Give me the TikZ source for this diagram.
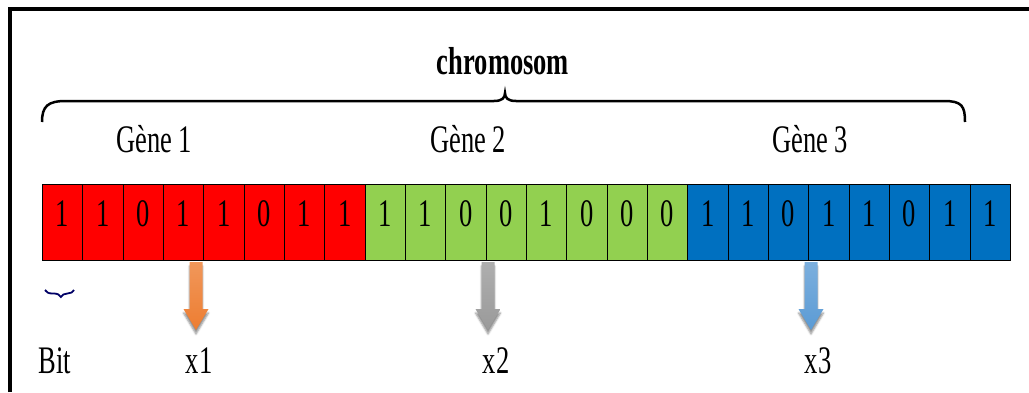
\documentclass[tikz,border=0pt]{standalone}
\usepackage{fontspec}
\setmainfont{Liberation Serif}[FakeStretch=0.68]
\usetikzlibrary{decorations.pathreplacing,positioning,shadows.blur}

\definecolor{genered}{HTML}{FF0000}
\definecolor{genegreen}{HTML}{92D050}
\definecolor{geneblue}{HTML}{0070C0}
\definecolor{arroworange}{HTML}{ED7D31}
\definecolor{arrowgray}{HTML}{9A9A9A}
\definecolor{arrowblue}{HTML}{5B9BD5}

\newcommand{\bigtxt}{\fontsize{39}{40}\selectfont}

\tikzset{
  bitcell/.style={draw=black, line width=0.8pt, minimum width=40.33pt,
    minimum height=76pt, inner sep=0pt, anchor=south west,
    font=\bigtxt, text height=28pt, text depth=20pt},
  txt/.style={font=\bigtxt, anchor=base, inner sep=0pt},
  pics/genearrow/.style={code={
    \shade[top color=#1!80!white, bottom color=#1,
      blur shadow={shadow xshift=0pt, shadow yshift=-4pt, shadow opacity=45}]
      (-6.5,0) -- (-6.5,-47) -- (-12.5,-47) -- (0,-68)
      -- (12.5,-47) -- (6.5,-47) -- (6.5,0) -- cycle;
  }}
}

\begin{document}
\begin{tikzpicture}[x=1pt,y=1pt]
  \useasboundingbox (0,0) rectangle (1029,392);

  % frame (runs off at the right and bottom)
  \draw[line width=4pt] (10,0) -- (10,382.5) -- (1029,382.5);

  % the 24 bits, 8 per gene
  \foreach \b [count=\i] in {1,1,0,1,1,0,1,1, 1,1,0,0,1,0,0,0, 1,1,0,1,1,0,1,1} {
    \ifnum\i<9 \def\cellcol{genered}\else
      \ifnum\i<17 \def\cellcol{genegreen}\else \def\cellcol{geneblue}\fi\fi
    \node[bitcell, fill=\cellcol] (c\i) at ({42+(\i-1)*40.33},131) {\b};
  }

  % gene names
  \node[txt] (g1) at (154,240) {Gène 1};
  \node[txt] (g2) at (468,240) {Gène 2};
  \node[txt] (g3) at (810,240) {Gène 3};

  % big brace over the whole chromosome
  \draw[line width=2.5pt]
    (42,270) .. controls (42,286) and (48,291) .. (66,291) -- (494,291)
    .. controls (502,291) and (505,294) .. (505,299)
    .. controls (505,294) and (508,291) .. (516,291) -- (944,291)
    .. controls (962,291) and (965,286) .. (965,270);
  \node[txt, font=\bigtxt\bfseries] (chrom) at (503,317) {chromosom};

  % one bit
  \draw[decorate, decoration={brace, mirror, amplitude=7pt, aspect=0.55},
    line width=1.8pt, draw=blue!40!black] (45,102) -- (74,102);
  \node[txt] (bit) at (55,19) {Bit};

  % decoded values
  \pic at (196,130) {genearrow=arroworange};
  \pic at (488,130) {genearrow=arrowgray};
  \pic at (811,130) {genearrow=arrowblue};
  \node[txt] (x1) at (199,19) {x1};
  \node[txt] (x2) at (496,19) {x2};
  \node[txt] (x3) at (818,19) {x3};
\end{tikzpicture}
\end{document}
